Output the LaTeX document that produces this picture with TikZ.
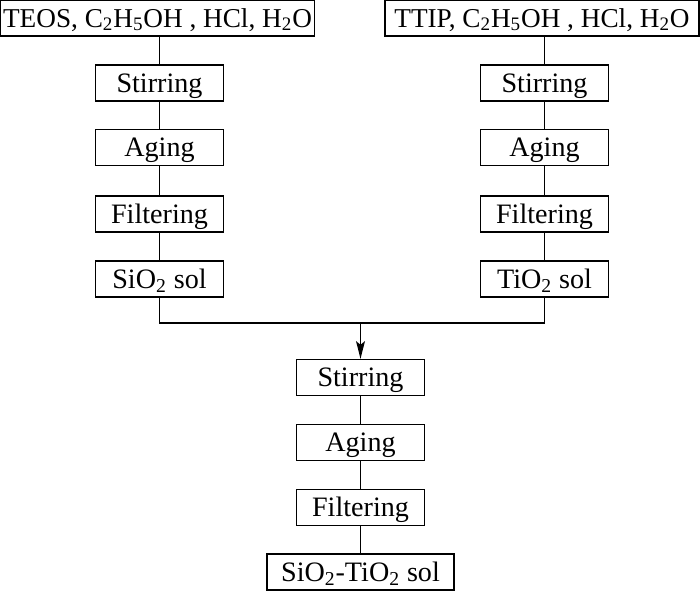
\documentclass[tikz,border=0pt]{standalone}
\usepackage{fontspec}
\setmainfont{Liberation Serif}
\usetikzlibrary{arrows.meta}
\begin{document}
\begin{tikzpicture}[
                x=0.02cm, y=-0.02cm,
                caixa/.style={shape=rectangle, draw=black, line width=0.75pt, minimum width=2.56cm, minimum height=0.72cm, inner sep=0pt, text height=10.6pt, text depth=0pt, font=\fontsize{16}{18}\selectfont},
                topo/.style={caixa, minimum width=6.28cm, text height=10.3pt, font=\fontsize{15.5}{18}\selectfont},
                linha/.style={line width=0.65pt},
                junta/.style={line width=1.1pt},
            ]
            \useasboundingbox (0, 0) rectangle (700, 591);

            \node[topo] (ta) at (157.5, 18) {TEOS, C\textsubscript{2}H\textsubscript{5}OH , HCl, H\textsubscript{2}O};
            \node[caixa] (a1) at (159.5, 83) {Stirring};
            \node[caixa] (a2) at (159.5, 147.5) {Aging};
            \node[caixa] (a3) at (159.5, 214) {Filtering};
            \node[caixa] (a4) at (159.5, 279) {SiO\textsubscript{2} sol};

            \node[topo] (tb) at (542, 18) {TTIP, C\textsubscript{2}H\textsubscript{5}OH , HCl, H\textsubscript{2}O};
            \node[caixa] (b1) at (544.5, 83) {Stirring};
            \node[caixa] (b2) at (544.5, 147.5) {Aging};
            \node[caixa] (b3) at (544.5, 214) {Filtering};
            \node[caixa] (b4) at (544.5, 279) {TiO\textsubscript{2} sol};

            \node[caixa] (c1) at (360.5, 377.5) {Stirring};
            \node[caixa] (c2) at (360.5, 442.5) {Aging};
            \node[caixa] (c3) at (360.5, 507.5) {Filtering};
            \node[caixa, minimum width=3.74cm] (c4) at (360.5, 572) {SiO\textsubscript{2}-TiO\textsubscript{2} sol};

            \coordinate (m) at (c1.north |- 0, 323);

            \draw[linha] (ta.south -| a1) -- (a1);
            \draw[linha] (a1) -- (a2);
            \draw[linha] (a2) -- (a3);
            \draw[linha] (a3) -- (a4);
            \draw[linha] (tb.south -| b1) -- (b1);
            \draw[linha] (b1) -- (b2);
            \draw[linha] (b2) -- (b3);
            \draw[linha] (b3) -- (b4);
            \draw[junta] (a4) |- (m) -| (b4);
            \draw[junta, -{Stealth[length=10pt, width=5pt, inset=2pt]}] (m) -- (c1);
            \draw[linha] (c1) -- (c2);
            \draw[linha] (c2) -- (c3);
            \draw[linha] (c3) -- (c4);
        \end{tikzpicture}
\end{document}
